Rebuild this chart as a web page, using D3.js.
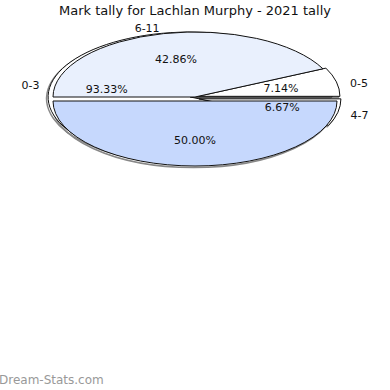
<!DOCTYPE html>
<html>
<head>
<meta charset="utf-8">
<script src="https://cdn.jsdelivr.net/npm/d3@7"></script>
<style>
  body { margin: 0; background: #fff; }
  svg { display: block; font-family: "DejaVu Sans", sans-serif; }
</style>
</head>
<body>
<div id="chart"></div>
<script>
// front pie (tally)
var frontLabels = ["0-5", "6-11", ""];
var frontValues = [1, 6, 7];
var frontColors = ["#ffffff", "#e9f0fd", "#c6d8fd"];
var frontExplode = [3, 0, 4];

// back pie
var backLabels = ["0-3", "4-7"];
var backValues = [14, 1];
var backColors = ["#ffffff", "#ffffff"];
var backExplode = [5, 4];

var width = 390, height = 390;
var cx = 195, cy = 97, rx = 142, ry = 65;

var svg = d3.select("#chart").append("svg")
    .attr("width", width)
    .attr("height", height);

svg.append("text")
    .attr("x", width / 2)
    .attr("y", 15)
    .attr("text-anchor", "middle")
    .style("font-size", "13px")
    .attr("fill", "#111")
    .text("Mark tally for Lachlan Murphy - 2021 tally");

svg.append("text")
    .attr("x", -1)
    .attr("y", 384)
    .style("font-size", "12px")
    .attr("fill", "#999")
    .text("Dream-Stats.com");

// start at 3 o'clock, go counterclockwise on screen
var pie = d3.pie().sort(null)
    .startAngle(Math.PI / 2)
    .endAngle(Math.PI / 2 - 2 * Math.PI);

var arc = d3.arc().innerRadius(0).outerRadius(1);
var fmt = d3.format(".2f");

var shadowLayer = svg.append("g");
var backLayer = svg.append("g");
var frontLayer = svg.append("g");
var textLayer = svg.append("g");

var drawPie = function(layer, labels, values, colors, explode, center) {
    var total = d3.sum(values);
    var slices = pie(values);

    slices.forEach(function(d, i) {
        var mid = (d.startAngle + d.endAngle) / 2;
        var s = Math.sin(mid), c = Math.cos(mid);
        var ox = center.x + explode[i] * s;
        var oy = center.y - explode[i] * c;

        // shadow
        shadowLayer.append("path")
            .attr("d", arc(d))
            .attr("transform", "translate(" + (ox - 1.5) + "," + (oy + 1.5) +
                ") scale(" + rx + "," + ry + ")")
            .attr("fill", "none")
            .attr("stroke", "#888")
            .attr("stroke-width", 1.5)
            .attr("vector-effect", "non-scaling-stroke");

        layer.append("path")
            .attr("d", arc(d))
            .attr("transform", "translate(" + ox + "," + oy +
                ") scale(" + rx + "," + ry + ")")
            .attr("fill", colors[i])
            .attr("stroke", "#111")
            .attr("stroke-width", 1)
            .attr("vector-effect", "non-scaling-stroke");

        textLayer.append("text")
            .attr("x", ox + rx * 0.6 * s)
            .attr("y", oy - ry * 0.6 * c + 4)
            .attr("text-anchor", "middle")
            .style("font-size", "11px")
            .attr("fill", "#111")
            .text(fmt(values[i] / total * 100) + "%");

        if (labels[i]) {
            var anchor = s > 0.1 ? "start" : (s < -0.1 ? "end" : "middle");
            textLayer.append("text")
                .attr("x", center.x + rx * 1.12 * s)
                .attr("y", center.y - ry * 1.12 * c + 6)
                .attr("text-anchor", anchor)
                .style("font-size", "11px")
                .attr("fill", "#111")
                .text(labels[i]);
        }
    });
};

drawPie(backLayer, backLabels, backValues, backColors, backExplode, {x: cx, y: cy + 1});
drawPie(frontLayer, frontLabels, frontValues, frontColors, frontExplode, {x: cx, y: cy});
</script>
</body>
</html>
